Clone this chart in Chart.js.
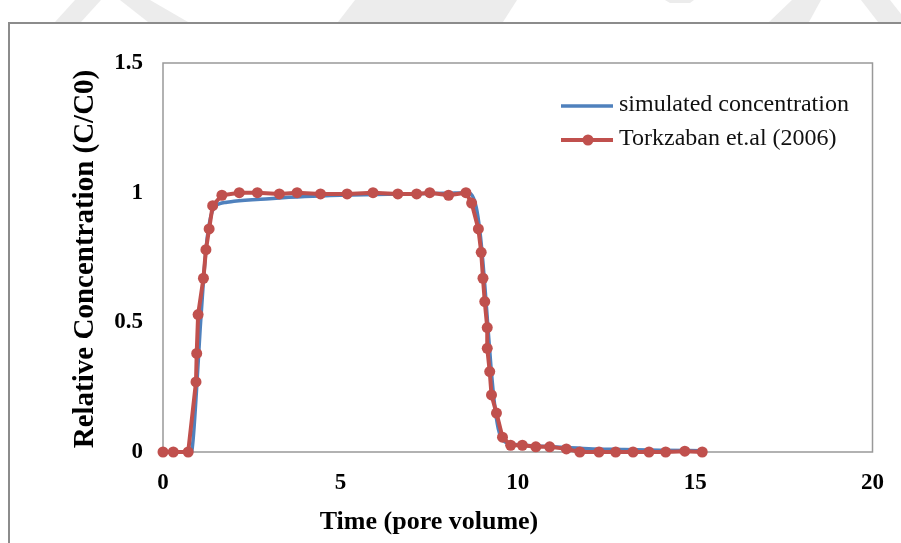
<!DOCTYPE html>
<html>
<head>
<meta charset="utf-8">
<script src="https://cdn.jsdelivr.net/npm/chart.js@4/dist/chart.umd.min.js"></script>
<style>
  html, body { margin: 0; padding: 0; background: #fff; }
  canvas { display: block; }
</style>
</head>
<body>
<canvas id="konsantrasyon" width="901" height="543"></canvas>
<script>
// measured points (Torkzaban et.al 2006)
var olcumX = [0, 0.29, 0.71, 0.93, 0.95, 0.99, 1.14, 1.21, 1.30, 1.40, 1.66, 2.15, 2.66, 3.28, 3.78, 4.44,
    5.19, 5.92, 6.62, 7.15, 7.52, 8.05, 8.54, 8.70, 8.89, 8.97, 9.02, 9.07, 9.14, 9.14, 9.21, 9.26,
    9.40, 9.57, 9.80, 10.13, 10.51, 10.90, 11.37, 11.75, 12.29, 12.76, 13.25, 13.70, 14.17, 14.71, 15.20];
var olcumY = [0, 0, 0, 0.27, 0.38, 0.53, 0.67, 0.78, 0.86, 0.95, 0.99, 1.0, 1.0, 0.995, 1.0, 0.995,
    0.995, 1.0, 0.995, 0.995, 1.0, 0.99, 1.0, 0.96, 0.86, 0.77, 0.67, 0.58, 0.48, 0.40, 0.31, 0.22,
    0.15, 0.057, 0.026, 0.026, 0.02, 0.02, 0.012, 0, 0, 0, 0, 0, 0, 0.003, 0];

// simulated concentration
var simX = [0, 0.8, 0.85, 0.95, 1.05, 1.15, 1.25, 1.35, 1.45, 1.6, 1.8, 2.0, 3.0, 4.0, 5.0, 6.0, 7.0, 8.0,
    8.6, 8.75, 8.85, 8.95, 9.05, 9.15, 9.25, 9.35, 9.45, 9.55, 9.7, 10.0, 11.0, 12.0, 13.0, 14.0, 15.2];
var simY = [0, 0, 0.05, 0.25, 0.48, 0.68, 0.83, 0.91, 0.945, 0.958, 0.963, 0.967, 0.977, 0.985, 0.99, 0.993, 0.996, 0.998,
    1.0, 0.98, 0.93, 0.83, 0.68, 0.5, 0.32, 0.18, 0.09, 0.05, 0.035, 0.028, 0.02, 0.013, 0.01, 0.007, 0.005];

var seriNames = ["simulated concentration", "Torkzaban et.al (2006)"];
var xTickLabels = ["0", "5", "10", "15", "20"];
var yTickLabels = ["0", "0.5", "1", "1.5"];
var xTitle = "Time (pore volume)";
var yTitle = "Relative Concentration (C/C0)";

var mavi = "#4F81BD";
var kirmizi = "#C0504D";
var yazi = "'Liberation Serif', 'Times New Roman', serif";

function noktalar(xs, ys) {
    return xs.map(function(x, i) { return { x: x, y: ys[i] }; });
}

var cerceve = {
    id: 'cerceve',
    beforeDraw: function(chart) {
        var c = chart.ctx;
        c.save();
        c.fillStyle = '#fff';
        c.fillRect(0, 0, chart.width, chart.height);
        // faint page watermark above the frame
        c.fillStyle = '#ececec';
        [
            [[55, 22], [81, 22], [101, 0], [75, 0]],
            [[120, 0], [150, 0], [188, 22], [148, 22]],
            [[338, 22], [503, 22], [517, 0], [355, 0]],
            [[665, 0], [694, 0], [690, 3], [670, 3]],
            [[769, 22], [809, 22], [821, 0], [792, 0]],
            [[861, 0], [890, 0], [901, 14], [901, 22], [878, 22]]
        ].forEach(function(p) {
            c.beginPath();
            c.moveTo(p[0][0], p[0][1]);
            for (var i = 1; i < p.length; i++) c.lineTo(p[i][0], p[i][1]);
            c.closePath();
            c.fill();
        });
        c.strokeStyle = '#8c8c8c';
        c.lineWidth = 2;
        c.beginPath();
        c.moveTo(9, 543);
        c.lineTo(9, 23);
        c.lineTo(901, 23);
        c.stroke();
        c.restore();
    },
    beforeDatasetsDraw: function(chart) {
        var a = chart.chartArea, c = chart.ctx;
        c.save();
        c.strokeStyle = '#999';
        c.lineWidth = 1.5;
        c.strokeRect(a.left, a.top, a.right - a.left, a.bottom - a.top);
        c.restore();
    },
    afterDraw: function(chart) {
        var c = chart.ctx;
        c.save();
        c.fillStyle = '#000';
        c.font = 'bold 26px ' + yazi;
        c.textAlign = 'center';
        c.textBaseline = 'middle';
        c.fillText(xTitle, 429, 522);
        c.translate(86, 259);
        c.rotate(-Math.PI / 2);
        c.font = 'bold 29px ' + yazi;
        c.fillText(yTitle, 0, 0);
        c.restore();

        // legend
        c.save();
        c.lineWidth = 3.5;
        c.strokeStyle = mavi;
        c.beginPath(); c.moveTo(561, 106); c.lineTo(613, 106); c.stroke();
        c.lineWidth = 4;
        c.strokeStyle = kirmizi;
        c.beginPath(); c.moveTo(561, 140); c.lineTo(613, 140); c.stroke();
        c.fillStyle = kirmizi;
        c.beginPath(); c.arc(588, 140, 5.5, 0, Math.PI * 2); c.fill();
        c.fillStyle = '#111';
        c.font = '24px ' + yazi;
        c.textBaseline = 'middle';
        c.fillText(seriNames[0], 619, 105);
        c.fillText(seriNames[1], 619, 139);
        c.restore();
    }
};

var ctx = document.getElementById("konsantrasyon").getContext('2d');
var chart = new Chart(ctx, {
    type: 'line',
    data: {
        datasets: [{
            label: seriNames[0],
            data: noktalar(simX, simY),
            borderColor: mavi,
            borderWidth: 3.5,
            pointRadius: 0,
            cubicInterpolationMode: 'monotone',
            order: 2,
            clip: false
        }, {
            label: seriNames[1],
            data: noktalar(olcumX, olcumY),
            borderColor: kirmizi,
            backgroundColor: kirmizi,
            borderWidth: 4,
            pointRadius: 5.5,
            pointBorderWidth: 0,
            tension: 0,
            order: 1,
            clip: false
        }]
    },
    options: {
        responsive: false,
        animation: false,
        devicePixelRatio: 1,
        layout: { padding: { top: 63, right: 28, left: 0, bottom: 0 } },
        plugins: {
            legend: { display: false },
            tooltip: { enabled: false }
        },
        scales: {
            x: {
                type: 'linear',
                min: 0,
                max: 20,
                afterFit: function(s) { s.height = 91; },
                grid: { display: false, drawTicks: false },
                border: { display: false },
                ticks: {
                    stepSize: 5,
                    padding: 17,
                    color: '#000',
                    font: { family: yazi, size: 23, weight: 'bold' },
                    callback: function(v, i) { return xTickLabels[i]; }
                }
            },
            y: {
                min: 0,
                max: 1.5,
                afterFit: function(s) { s.width = 163; },
                grid: { display: false, drawTicks: false },
                border: { display: false },
                ticks: {
                    stepSize: 0.5,
                    padding: 20,
                    color: '#000',
                    font: { family: yazi, size: 23, weight: 'bold' },
                    callback: function(v, i) { return yTickLabels[i]; }
                }
            }
        }
    },
    plugins: [cerceve]
});
</script>
</body>
</html>
